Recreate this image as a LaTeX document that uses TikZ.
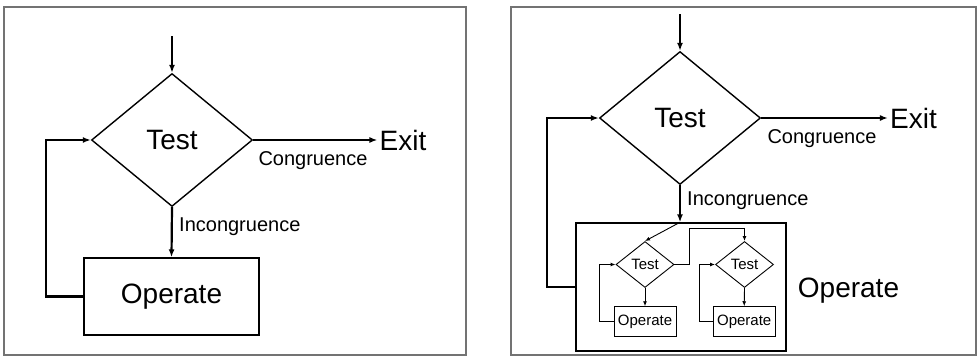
\documentclass[tikz,border=0pt]{standalone}
\usepackage{fontspec}
\setmainfont{Liberation Sans}
\usetikzlibrary{shapes.geometric,positioning,arrows.meta}
\tikzset{
 dec/.style
  = {diamond, draw, line width=1.4pt, inner sep=0pt, minimum width=161pt,
     minimum height=133pt, font=\fontsize{28}{33}\selectfont},
 sdec/.style
  = {diamond, draw, line width=0.9pt, inner sep=0pt, minimum width=58pt,
     minimum height=46pt, font=\fontsize{15}{18}\selectfont},
 sbox/.style
  = {rectangle, draw, line width=0.9pt, inner sep=0pt, minimum width=62pt,
     minimum height=30pt, font=\fontsize{15}{18}\selectfont},
 big/.style
  = {inner sep=2pt, font=\fontsize{28}{33}\selectfont},
 lbl/.style
  = {inner sep=2pt, font=\fontsize{20}{24}\selectfont},
 frame/.style
  = {draw=black!55, line width=1.2pt},
 l/.style
  = {draw, line width=2.2pt, -{Latex[length=8pt,width=6pt]}},
 sl/.style
  = {draw, line width=0.9pt, -{Latex[length=5pt,width=4pt]}},
}

\begin{document}
\begin{tikzpicture}[x=1pt,y=-1pt]
\useasboundingbox (0,0) rectangle (977,356);

% Frames
\draw[frame] (4,7) rectangle (466,355);
\draw[frame] (511,7) rectangle (976,355);

% Left: simple loop
\coordinate (in) at (172,36);
\node[dec] (T) at (172,140) {Test};
\node[big] (X) at (403,140) {Exit};
\node[rectangle, draw, line width=1.4pt, minimum width=175pt, minimum height=77pt,
      font=\fontsize{28}{33}\selectfont] (O) at (171.5,296.5) {Operate};
\node[lbl] at (313,161) {Congruence};
\node[lbl, anchor=west] at (177,227) {Incongruence};

\draw[l] (in) -- (T.north);
\draw[l] (T.east) -- (X.west);
\draw[l] (T.south) -- (O.north);
\draw[l] (O.west) -- ++(-37,0) |- (T.west);

% Right: nested loop
\coordinate (in2) at (680,14);
\node[dec] (T2) at (680,118) {Test};
\node[big] (X2) at (913.5,118) {Exit};
\node[rectangle, draw, line width=1.4pt, minimum width=210pt, minimum height=128pt] (B) at (681,287) {};
\node[big] (O2) at (848.5,291) {Operate};
\node[lbl] at (822,139) {Congruence};
\node[lbl, anchor=west] at (685,201) {Incongruence};

\draw[l] (in2) -- (T2.north);
\draw[l] (T2.east) -- (X2.west);
\draw[l] (T2.south) -- (T2.south |- B.north);
\draw[l] (B.west) -- ++(-28,0) |- (T2.west);

% Inside Operate
\node[sdec] (d1) at (645,264.5) {Test};
\node[sdec] (d2) at (744.5,264.5) {Test};
\node[sbox] (b1) at (645,321.7) {Operate};
\node[sbox] (b2) at (744.2,321.7) {Operate};

\draw[sl] (T2.south |- B.north) -- (d1.north);
\draw[sl] (d1.east) -- ++(15,0) -- ++(0,-36) -| (d2.north);
\draw[sl] (d1.south) -- (b1.north);
\draw[sl] (d2.south) -- (b2.north);
\draw[sl] (b1.west) -- ++(-14,0) |- (d1.west);
\draw[sl] (b2.west) -- ++(-13,0) |- (d2.west);

\end{tikzpicture}
\end{document}
